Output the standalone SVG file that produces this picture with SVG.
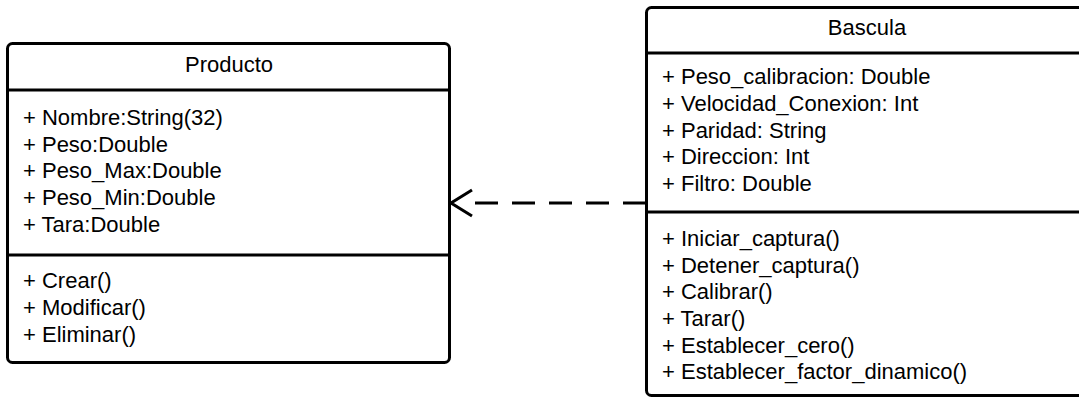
<svg xmlns="http://www.w3.org/2000/svg" width="1079" height="398" viewBox="0 0 1079 398">
<defs>
<style>
.box{fill:#fff;stroke:#000;stroke-width:3}
.div{stroke:#000;stroke-width:3;fill:none}
text{font-family:"Liberation Sans",Arial,sans-serif;font-size:22px;fill:#000}
.t{text-anchor:middle}
.conn{stroke:#000;stroke-width:3;fill:none}
</style>
</defs>
<rect width="1079" height="398" fill="#fff"/>
<g id="connectors">
<path class="conn" d="M646 203 L475 203" stroke-dasharray="23 14"/>
<path class="conn" d="M472 190 L451 203 L472 216"/>
</g>
<g id="producto">
<rect class="box" x="7.5" y="43.5" width="442" height="319" rx="5"/>
<line class="div" x1="7.5" y1="90" x2="449.5" y2="90"/>
<line class="div" x1="7.5" y1="255" x2="449.5" y2="255"/>
<text class="t" x="229" y="72.3">Producto</text>
<text x="23" y="125">+ Nombre:String(32)</text>
<text x="23" y="151.7">+ Peso:Double</text>
<text x="23" y="178.3">+ Peso_Max:Double</text>
<text x="23" y="205">+ Peso_Min:Double</text>
<text x="23" y="231.7">+ Tara:Double</text>
<text x="23" y="288.3">+ Crear()</text>
<text x="23" y="315">+ Modificar()</text>
<text x="23" y="341.7">+ Eliminar()</text>
</g>
<g id="bascula">
<rect class="box" x="646.5" y="7.5" width="445" height="388" rx="5"/>
<line class="div" x1="646.5" y1="53" x2="1091.5" y2="53"/>
<line class="div" x1="646.5" y1="212" x2="1091.5" y2="212"/>
<text class="t" x="867" y="35">Bascula</text>
<text x="662" y="84.3">+ Peso_calibracion: Double</text>
<text x="662" y="111">+ Velocidad_Conexion: Int</text>
<text x="662" y="137.7">+ Paridad: String</text>
<text x="662" y="164.3">+ Direccion: Int</text>
<text x="662" y="191">+ Filtro: Double</text>
<text x="662" y="246">+ Iniciar_captura()</text>
<text x="662" y="272.7">+ Detener_captura()</text>
<text x="662" y="299.3">+ Calibrar()</text>
<text x="662" y="326">+ Tarar()</text>
<text x="662" y="352.7">+ Establecer_cero()</text>
<text x="662" y="379.3">+ Establecer_factor_dinamico()</text>
</g>
</svg>
